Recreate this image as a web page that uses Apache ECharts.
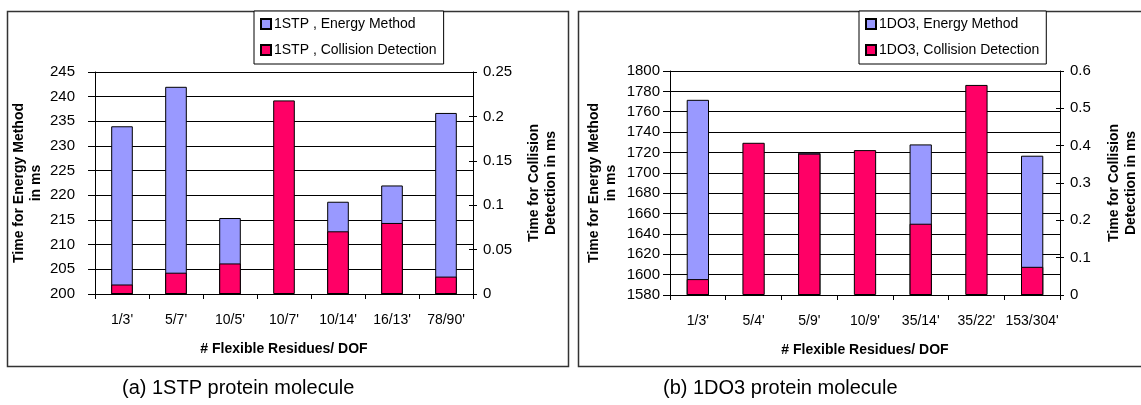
<!DOCTYPE html>
<html><head><meta charset="utf-8">
<script src="https://cdn.jsdelivr.net/npm/echarts@6/dist/echarts.min.js"></script>
<style>html,body{margin:0;padding:0;background:#fff}#c{width:1141px;height:405px}</style>
</head><body><div id="c"></div>
<script>
// ---- data ----
const catsA = ["1/3'", "5/7'", "10/5'", "10/7'", "10/14'", "16/13'", "78/90'"];
const energyA = [234.0, 242.0, 215.4, null, 218.7, 222.0, 236.7];
const collisionA = [0.0107, 0.024, 0.0344, 0.218, 0.0706, 0.080, 0.0196];
const catsB = ["1/3'", "5/4'", "5/9'", "10/9'", "35/14'", "35/22'", "153/304'"];
const energyB = [1771.7, null, 1719.8, null, 1727.9, null, 1716.8];
const collisionB = [0.0426, 0.4077, 0.3786, 0.3881, 0.1909, 0.5627, 0.0755];
const legendA = ["1STP , Energy Method", "1STP , Collision Detection"];
const legendB = ["1DO3, Energy Method", "1DO3, Collision Detection"];
const captions = ["(a) 1STP protein molecule", "(b) 1DO3 protein molecule"];
const xName = "# Flexible Residues/ DOF";
const yNameL = "Time for Energy Method\nin ms";
const yNameR = "Time for Collision\nDetection in ms";
const axisA = {min: 200, max: 245, interval: 5, rMax: 0.25, rInterval: 0.05};
const axisB = {min: 1580, max: 1800, interval: 20, rMax: 0.6, rInterval: 0.1};

// ---- style ----
const NARROW = '"Liberation Sans Narrow", "Arial Narrow", "Liberation Sans", Arial, sans-serif';
const SANS = '"Liberation Sans", Arial, sans-serif';
const BLUE = '#9999FF', RED = '#FF0066';
const line = {lineStyle: {color: '#000', width: 1}};
const plain = v => String(v);

function xAxisCfg(gi, cats) {
  return {
    gridIndex: gi, type: 'category', data: cats,
    axisLine: {show: true, ...line},
    axisTick: {show: true, length: 5, ...line},
    axisLabel: {color: '#000', fontSize: 14, fontFamily: NARROW, margin: 19, interval: 0},
    name: xName, nameLocation: 'middle', nameGap: 48,
    nameTextStyle: {color: '#000', fontSize: 14, fontWeight: 'bold', fontFamily: NARROW}
  };
}
function yAxes(gi, ax, lm, lGap, rGap) {
  return [
    {gridIndex: gi, type: 'value', position: 'left', min: ax.min, max: ax.max, interval: ax.interval,
     axisLine: {show: true, ...line}, axisTick: {show: true, length: 7, ...line},
     splitLine: {show: true, ...line},
     axisLabel: {color: '#000', fontSize: 15, fontFamily: NARROW, margin: lm, formatter: plain},
     name: yNameL, nameLocation: 'middle', nameRotate: 90, nameGap: lGap,
     nameTextStyle: {color: '#000', fontSize: 14, fontWeight: 'bold', fontFamily: SANS, lineHeight: 17}},
    {gridIndex: gi, type: 'value', position: 'right', min: 0, max: ax.rMax, interval: ax.rInterval,
     axisLine: {show: true, ...line}, axisTick: {show: true, length: 4, ...line},
     splitLine: {show: false},
     axisLabel: {color: '#000', fontSize: 15, fontFamily: NARROW, margin: 10, formatter: plain},
     name: yNameR, nameLocation: 'middle', nameRotate: 90, nameGap: rGap,
     nameTextStyle: {color: '#000', fontSize: 14, fontWeight: 'bold', fontFamily: SANS, lineHeight: 17}},
    {gridIndex: gi, type: 'value', position: 'right', min: 0, max: ax.rMax, interval: ax.rInterval,
     axisLine: {show: false}, axisTick: {show: true, inside: true, length: 4, ...line},
     splitLine: {show: false}, axisLabel: {show: false}}
  ];
}
function barSeries(name, xi, yi, data, color) {
  return {
    name, type: 'bar', xAxisIndex: xi, yAxisIndex: yi, data,
    barWidth: '40%', barGap: '-100%',
    itemStyle: {color, borderColor: '#000', borderWidth: 1},
    emphasis: {disabled: true}, animation: false
  };
}
function legendCfg(names, left) {
  return {
    data: names, orient: 'vertical', left, top: 11,
    backgroundColor: '#fff', borderColor: '#000', borderWidth: 1,
    padding: [6, 7, 7, 6], itemGap: 12, itemWidth: 10, itemHeight: 10, icon: 'rect',
    textStyle: {color: '#000', fontSize: 14, fontFamily: NARROW, padding: [0, 0, 0, -2]},
    selectedMode: false
  };
}

const chart = echarts.init(document.getElementById('c'), null, {renderer: 'canvas'});
chart.setOption({
  animation: false,
  backgroundColor: '#fff',
  grid: [
    {left: 95, right: 1141 - 473, top: 72, bottom: 405 - 294},
    {left: 670, right: 1141 - 1062, top: 71, bottom: 405 - 295}
  ],
  xAxis: [xAxisCfg(0, catsA), xAxisCfg(1, catsB)],
  yAxis: [...yAxes(0, axisA, 20, 50, 53), ...yAxes(1, axisB, 10, 50, 46)],
  legend: [legendCfg(legendA, 254), legendCfg(legendB, 859)],
  series: [
    barSeries(legendA[0], 0, 0, energyA, BLUE),
    barSeries(legendA[1], 0, 1, collisionA, RED),
    barSeries(legendB[0], 1, 3, energyB, BLUE),
    barSeries(legendB[1], 1, 4, collisionB, RED)
  ],
  graphic: [
    {type: 'rect', z: -1, shape: {x: 7.5, y: 11.5, width: 561, height: 355},
     style: {fill: 'none', stroke: '#333', lineWidth: 1.5}},
    {type: 'rect', z: -1, shape: {x: 578.5, y: 11.5, width: 600, height: 355},
     style: {fill: 'none', stroke: '#333', lineWidth: 1.5}},
    {type: 'text', left: 122, top: 378, style: {text: captions[0], font: '20px ' + SANS, fill: '#000'}},
    {type: 'text', left: 663, top: 378, style: {text: captions[1], font: '20px ' + SANS, fill: '#000'}}
  ]
});
</script></body></html>
